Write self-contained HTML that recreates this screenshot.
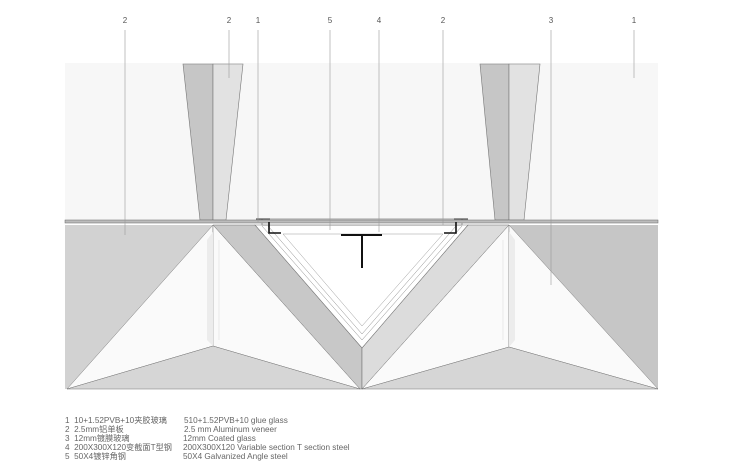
<!DOCTYPE html>
<html><head><meta charset="utf-8"><style>
body{margin:0;background:#fff;width:730px;height:471px;overflow:hidden}
svg{display:block}
text{font-family:"Liberation Sans","Noto Sans CJK SC",sans-serif;fill:#555}
</style></head><body>
<svg width="730" height="471" viewBox="0 0 730 471" xmlns="http://www.w3.org/2000/svg">
<rect x="65" y="63" width="593" height="158" fill="#f7f7f7"/>
<polygon points="183,64 213,64 213,220 200,220" fill="#c6c6c6" stroke="#777" stroke-width="0.6"/>
<polygon points="213,64 243,64 226,220 213,220" fill="#e2e2e2" stroke="#777" stroke-width="0.6"/>
<polygon points="480,64 509,64 509,220 495,220" fill="#c6c6c6" stroke="#777" stroke-width="0.6"/>
<polygon points="509,64 540,64 524,220 509,220" fill="#e2e2e2" stroke="#777" stroke-width="0.6"/>
<polygon points="65,225 213,225 67,389 65,389" fill="#d2d2d2"/>
<polygon points="509,225 658,225 658,389" fill="#c6c6c6"/>
<polygon points="213,225 255,225 362,348 362,389 360,389" fill="#c8c8c8" stroke="#666" stroke-width="0.5"/>
<polygon points="468,225 509,225 362,389 362,348" fill="#dcdcdc" stroke="#666" stroke-width="0.5"/>
<polygon points="67,389 213,225 213,346" fill="#fafafa" stroke="#777" stroke-width="0.5"/>
<polygon points="213,225 360,389 213,346" fill="#fafafa" stroke="#777" stroke-width="0.5"/>
<polygon points="67,389 213,346 360,389" fill="#d6d6d6" stroke="#777" stroke-width="0.5"/>
<polygon points="207,240 213,232 213,346 207,340" fill="#ececec"/>
<line x1="219" y1="240" x2="219" y2="340" stroke="#ddd" stroke-width="0.6"/>
<polygon points="362,389 509,225 509,347" fill="#fafafa" stroke="#777" stroke-width="0.5"/>
<polygon points="509,225 658,389 509,347" fill="#fafafa" stroke="#777" stroke-width="0.5"/>
<polygon points="362,389 509,347 658,389" fill="#d6d6d6" stroke="#777" stroke-width="0.5"/>
<polygon points="509,232 515,240 515,340 509,347" fill="#ececec"/>
<line x1="503" y1="240" x2="503" y2="340" stroke="#ddd" stroke-width="0.6"/>
<polygon points="255,225 468,225 362,348" fill="#fff" stroke="#777" stroke-width="0.6"/>
<polyline points="262,226 362,340 462,226" fill="none" stroke="#888" stroke-width="0.5"/>
<polyline points="268,226 362,334 456,226" fill="none" stroke="#888" stroke-width="0.5"/>
<polyline points="283,234 362,326 443,234" fill="none" stroke="#999" stroke-width="0.5"/>
<line x1="283" y1="234" x2="443" y2="234" stroke="#999" stroke-width="0.5"/>
<rect x="262" y="219" width="200" height="6" fill="#fff" stroke="#666" stroke-width="0.6"/>
<rect x="65" y="220" width="593" height="3" fill="#bbb" stroke="#666" stroke-width="0.5"/>
<polyline points="269,222 269,233 281,233" fill="none" stroke="#111" stroke-width="1.6"/>
<polyline points="456,222 456,233 444,233" fill="none" stroke="#111" stroke-width="1.6"/>
<line x1="256" y1="219" x2="270" y2="219" stroke="#333" stroke-width="1"/>
<line x1="454" y1="219" x2="468" y2="219" stroke="#333" stroke-width="1"/>
<line x1="341" y1="235" x2="382" y2="235" stroke="#111" stroke-width="2"/>
<line x1="362" y1="235" x2="362" y2="268" stroke="#111" stroke-width="2"/>
<g stroke="#999" stroke-width="0.6">
<line x1="125" y1="30" x2="125" y2="235"/>
<line x1="229" y1="30" x2="229" y2="78"/>
<line x1="258" y1="30" x2="258" y2="222"/>
<line x1="330" y1="30" x2="330" y2="230"/>
<line x1="379" y1="30" x2="379" y2="232"/>
<line x1="443" y1="30" x2="443" y2="225"/>
<line x1="551" y1="30" x2="551" y2="285"/>
<line x1="634" y1="30" x2="634" y2="78"/>
</g>
<g font-size="8" text-anchor="middle">
<text x="125" y="23">2</text><text x="229" y="23">2</text><text x="258" y="23">1</text>
<text x="330" y="23">5</text><text x="379" y="23">4</text><text x="443" y="23">2</text>
<text x="551" y="23">3</text><text x="634" y="23">1</text>
</g>
<g font-size="8.2" style="fill:#666">
<text x="65" y="423" style="fill:#666">1&#160;&#160;10+1.52PVB+10夹胶玻璃</text>
<text x="65" y="432" style="fill:#666">2&#160;&#160;2.5mm铝单板</text>
<text x="65" y="441" style="fill:#666">3&#160;&#160;12mm镀膜玻璃</text>
<text x="65" y="450" style="fill:#666">4&#160;&#160;200X300X120变截面T型钢</text>
<text x="65" y="459" style="fill:#666">5&#160;&#160;50X4镀锌角钢</text>
<text x="184" y="423" style="fill:#666">510+1.52PVB+10 glue glass</text>
<text x="184" y="432" style="fill:#666">2.5 mm Aluminum veneer</text>
<text x="183" y="441" style="fill:#666">12mm Coated glass</text>
<text x="183" y="450" style="fill:#666">200X300X120 Variable section T section steel</text>
<text x="183" y="459" style="fill:#666">50X4 Galvanized Angle steel</text>
</g>
</svg>
</body></html>
